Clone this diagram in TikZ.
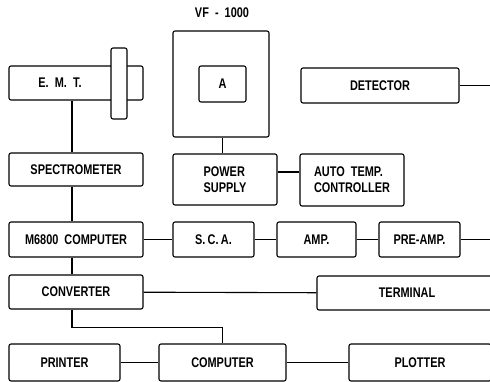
\documentclass[tikz,border=0pt]{standalone}
\usepackage{fontspec}
\setmainfont{Liberation Sans}[FakeStretch=0.78]
\usetikzlibrary{
  positioning,
  calc
}

\begin{document}
\begin{tikzpicture}[x=1pt, y=-1pt, line width=1.1pt]
\useasboundingbox (0,0) rectangle (490,382);
\clip (0,0) rectangle (490,382);

% -------------------------
% Nodes
% -------------------------
\begin{scope}[
  every node/.style={draw, rounded corners=2pt, align=center, inner sep=0pt,
    font=\fontsize{14}{16}\selectfont\bfseries}
]

% Left column
\node[minimum width=134, minimum height=34] (emt)  at (76, 83)    {};
\node[minimum width=134, minimum height=33] (spec) at (76, 169.5) {SPECTROMETER};
\node[minimum width=134, minimum height=35] (m6800) at (76, 239.5) {M6800\ \ COMPUTER};
\node[minimum width=134, minimum height=34] (conv) at (76, 292)   {CONVERTER};

% Furnace
\node[minimum width=96, minimum height=106] (vf)  at (221, 84)   {};
\node[minimum width=47, minimum height=36]  (a)   at (222.5, 84) {A};
\node[minimum width=104, minimum height=51, align=left] (power) at (225, 179.5) {POWER\\SUPPLY};
\node[minimum width=104, minimum height=52, align=left] (auto)  at (352, 180)   {AUTO\ \ TEMP.\\CONTROLLER};

% Detector chain
\node[minimum width=158, minimum height=35] (det)    at (380, 85.5)   {DETECTOR};
\node[minimum width=81,  minimum height=35] (sca)    at (213.5, 239.5) {S.\,C.\,A.};
\node[minimum width=79,  minimum height=35] (amp)    at (316.5, 239.5) {AMP.};
\node[minimum width=81,  minimum height=35] (preamp) at (419.5, 239.5) {PRE-AMP.};

% Output devices
\node[minimum width=180, minimum height=34] (term)    at (407, 293)     {TERMINAL};
\node[minimum width=111, minimum height=37] (printer) at (64.5, 362.5)  {PRINTER};
\node[minimum width=127, minimum height=37] (comp)    at (222.5, 362.5) {COMPUTER};
\node[minimum width=142, minimum height=37] (plot)    at (420, 362.5)   {PLOTTER};

\end{scope}

% E.M.T. flange and labels
\node[draw, fill=white, rounded corners=2pt, minimum width=16, minimum height=71,
  inner sep=0pt] (flange) at (119, 83.5) {};
\node[font=\fontsize{14}{16}\selectfont\bfseries] (emtlabel) at (60, 83) {E.\ \ M.\ \ T.};
\node[font=\fontsize{14}{16}\selectfont\bfseries] (vflabel)  at (222, 13) {VF\ \ -\ \ 1000};

% -------------------------
% Edges
% -------------------------
\coordinate (trunk)  at (72, 0);
\coordinate (detout) at (490, 85.5);
\coordinate (preout) at (490, 239.5);

\draw (emt.south -| trunk)   -- (spec.north -| trunk);
\draw (spec.south -| trunk)  -- (m6800.north -| trunk);
\draw (m6800.south -| trunk) -- (conv.north -| trunk);
\draw (conv.south -| trunk)  -- ++(0,18) -| (comp.north);

\draw (vf.south -| a) -- (power.north -| a);
\draw ([yshift=7.5]power.east) -- ([yshift=7.5]power.east -| auto.west);

\draw (det) -- (detout);
\draw (m6800)  -- (sca);
\draw (sca)    -- (amp);
\draw (amp)    -- (preamp);
\draw (preamp) -- (preout);

\draw (conv)    -- (term);
\draw (printer) -- (comp);
\draw (comp)    -- (plot);

\end{tikzpicture}
\end{document}
